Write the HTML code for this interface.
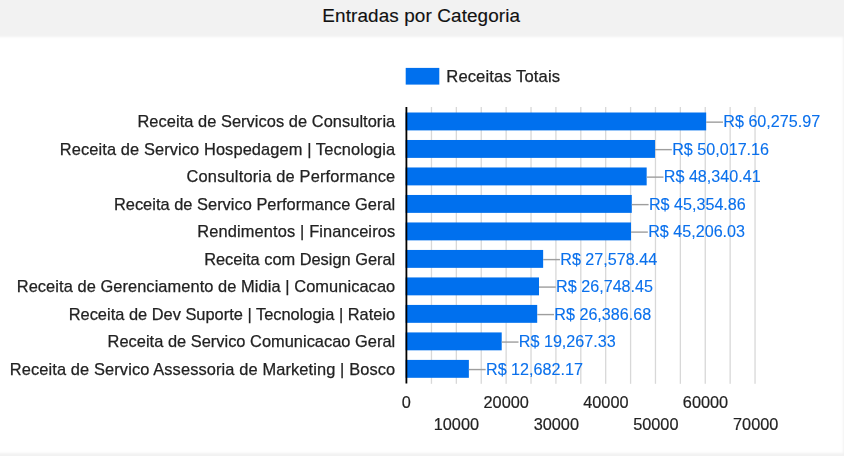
<!DOCTYPE html>
<html><head><meta charset="utf-8"><style>
html,body{margin:0;padding:0;width:844px;height:456px;overflow:hidden;background:#f2f2f2;}
.card{position:absolute;left:-10px;top:37px;width:852.5px;height:416px;background:#fff;filter:blur(1.2px);}
.wrap{position:absolute;left:0;top:0;width:844px;height:456px;will-change:transform;}
svg{position:absolute;left:0;top:0;font-family:"Liberation Sans",sans-serif;}

</style></head><body>
<div class="card"></div>
<svg width="844" height="37" viewBox="0 0 844 37"><text stroke="currentColor" stroke-width="0.15" x="421.2" y="21.75" text-anchor="middle" font-size="18.9" textLength="197.8" lengthAdjust="spacing" fill="#111111" color="#111111">Entradas por Categoria</text></svg>
<div class="wrap">
<svg width="844" height="456" viewBox="0 0 844 456">
<rect x="430.81" y="107" width="1.3" height="276.8" fill="#d8d8d8"/>
<rect x="455.70" y="107" width="1.3" height="276.8" fill="#d8d8d8"/>
<rect x="480.59" y="107" width="1.3" height="276.8" fill="#d8d8d8"/>
<rect x="505.48" y="107" width="1.3" height="276.8" fill="#d8d8d8"/>
<rect x="530.37" y="107" width="1.3" height="276.8" fill="#d8d8d8"/>
<rect x="555.26" y="107" width="1.3" height="276.8" fill="#d8d8d8"/>
<rect x="580.15" y="107" width="1.3" height="276.8" fill="#d8d8d8"/>
<rect x="605.04" y="107" width="1.3" height="276.8" fill="#d8d8d8"/>
<rect x="629.93" y="107" width="1.3" height="276.8" fill="#d8d8d8"/>
<rect x="654.82" y="107" width="1.3" height="276.8" fill="#d8d8d8"/>
<rect x="679.71" y="107" width="1.3" height="276.8" fill="#d8d8d8"/>
<rect x="704.60" y="107" width="1.3" height="276.8" fill="#d8d8d8"/>
<rect x="729.49" y="107" width="1.3" height="276.8" fill="#d8d8d8"/>
<rect x="754.38" y="107" width="1.3" height="276.8" fill="#d8d8d8"/>
<rect x="405.64" y="112.50" width="300.54" height="17.90" fill="#0070ee"/>
<rect x="706.18" y="121.45" width="16.8" height="1.4" fill="#9e9e9e"/>
<text stroke="currentColor" stroke-width="0.25" x="395.2" y="127.20" text-anchor="end" font-size="16.4" textLength="257.72" lengthAdjust="spacing" fill="#222222" color="#222222">Receita de Servicos de Consultoria</text>
<text stroke="currentColor" x="723.28" y="127.20" font-size="16.15" stroke-width="0.12" fill="#0a70ec" color="#0a70ec">R$ 60,275.97</text>
<rect x="405.64" y="139.99" width="249.39" height="17.90" fill="#0070ee"/>
<rect x="655.03" y="148.94" width="16.8" height="1.4" fill="#9e9e9e"/>
<text stroke="currentColor" stroke-width="0.25" x="395.2" y="154.69" text-anchor="end" font-size="16.4" textLength="335.36" lengthAdjust="spacing" fill="#222222" color="#222222">Receita de Servico Hospedagem | Tecnologia</text>
<text stroke="currentColor" x="672.13" y="154.69" font-size="16.15" stroke-width="0.12" fill="#0a70ec" color="#0a70ec">R$ 50,017.16</text>
<rect x="405.64" y="167.48" width="241.03" height="17.90" fill="#0070ee"/>
<rect x="646.67" y="176.43" width="16.8" height="1.4" fill="#9e9e9e"/>
<text stroke="currentColor" stroke-width="0.25" x="395.2" y="182.18" text-anchor="end" font-size="16.4" textLength="208.68" lengthAdjust="spacing" fill="#222222" color="#222222">Consultoria de Performance</text>
<text stroke="currentColor" x="663.77" y="182.18" font-size="16.15" stroke-width="0.12" fill="#0a70ec" color="#0a70ec">R$ 48,340.41</text>
<rect x="405.64" y="194.97" width="226.14" height="17.90" fill="#0070ee"/>
<rect x="631.78" y="203.92" width="16.8" height="1.4" fill="#9e9e9e"/>
<text stroke="currentColor" stroke-width="0.25" x="395.2" y="209.67" text-anchor="end" font-size="16.4" textLength="281.29" lengthAdjust="spacing" fill="#222222" color="#222222">Receita de Servico Performance Geral</text>
<text stroke="currentColor" x="648.88" y="209.67" font-size="16.15" stroke-width="0.12" fill="#0a70ec" color="#0a70ec">R$ 45,354.86</text>
<rect x="405.64" y="222.46" width="225.40" height="17.90" fill="#0070ee"/>
<rect x="631.04" y="231.41" width="16.8" height="1.4" fill="#9e9e9e"/>
<text stroke="currentColor" stroke-width="0.25" x="395.2" y="237.16" text-anchor="end" font-size="16.4" textLength="197.87" lengthAdjust="spacing" fill="#222222" color="#222222">Rendimentos | Financeiros</text>
<text stroke="currentColor" x="648.14" y="237.16" font-size="16.15" stroke-width="0.12" fill="#0a70ec" color="#0a70ec">R$ 45,206.03</text>
<rect x="405.64" y="249.95" width="137.51" height="17.90" fill="#0070ee"/>
<rect x="543.15" y="258.90" width="16.8" height="1.4" fill="#9e9e9e"/>
<text stroke="currentColor" stroke-width="0.25" x="395.2" y="264.65" text-anchor="end" font-size="16.4" textLength="191.01" lengthAdjust="spacing" fill="#222222" color="#222222">Receita com Design Geral</text>
<text stroke="currentColor" x="560.25" y="264.65" font-size="16.15" stroke-width="0.12" fill="#0a70ec" color="#0a70ec">R$ 27,578.44</text>
<rect x="405.64" y="277.44" width="133.37" height="17.90" fill="#0070ee"/>
<rect x="539.01" y="286.39" width="16.8" height="1.4" fill="#9e9e9e"/>
<text stroke="currentColor" stroke-width="0.25" x="395.2" y="292.14" text-anchor="end" font-size="16.4" textLength="378.48" lengthAdjust="spacing" fill="#222222" color="#222222">Receita de Gerenciamento de Midia | Comunicacao</text>
<text stroke="currentColor" x="556.11" y="292.14" font-size="16.15" stroke-width="0.12" fill="#0a70ec" color="#0a70ec">R$ 26,748.45</text>
<rect x="405.64" y="304.93" width="131.56" height="17.90" fill="#0070ee"/>
<rect x="537.20" y="313.88" width="16.8" height="1.4" fill="#9e9e9e"/>
<text stroke="currentColor" stroke-width="0.25" x="395.2" y="319.63" text-anchor="end" font-size="16.4" textLength="326.50" lengthAdjust="spacing" fill="#222222" color="#222222">Receita de Dev Suporte | Tecnologia | Rateio</text>
<text stroke="currentColor" x="554.30" y="319.63" font-size="16.15" stroke-width="0.12" fill="#0a70ec" color="#0a70ec">R$ 26,386.68</text>
<rect x="405.64" y="332.42" width="96.07" height="17.90" fill="#0070ee"/>
<rect x="501.71" y="341.37" width="16.8" height="1.4" fill="#9e9e9e"/>
<text stroke="currentColor" stroke-width="0.25" x="395.2" y="347.12" text-anchor="end" font-size="16.4" textLength="287.58" lengthAdjust="spacing" fill="#222222" color="#222222">Receita de Servico Comunicacao Geral</text>
<text stroke="currentColor" x="518.81" y="347.12" font-size="16.15" stroke-width="0.12" fill="#0a70ec" color="#0a70ec">R$ 19,267.33</text>
<rect x="405.64" y="359.91" width="63.23" height="17.90" fill="#0070ee"/>
<rect x="468.87" y="368.86" width="16.8" height="1.4" fill="#9e9e9e"/>
<text stroke="currentColor" stroke-width="0.25" x="395.2" y="374.61" text-anchor="end" font-size="16.4" textLength="385.41" lengthAdjust="spacing" fill="#222222" color="#222222">Receita de Servico Assessoria de Marketing | Bosco</text>
<text stroke="currentColor" x="485.97" y="374.61" font-size="16.15" stroke-width="0.12" fill="#0a70ec" color="#0a70ec">R$ 12,682.17</text>
<rect x="405.5" y="107" width="1.8" height="276.5" fill="#000"/>
<text stroke="currentColor" stroke-width="0.2" x="406.40" y="408.3" text-anchor="middle" font-size="16.3" fill="#222222" color="#222222">0</text>
<text stroke="currentColor" stroke-width="0.2" x="456.40" y="430.3" text-anchor="middle" font-size="16.3" fill="#222222" color="#222222">10000</text>
<text stroke="currentColor" stroke-width="0.2" x="506.20" y="408.3" text-anchor="middle" font-size="16.3" fill="#222222" color="#222222">20000</text>
<text stroke="currentColor" stroke-width="0.2" x="556.30" y="430.3" text-anchor="middle" font-size="16.3" fill="#222222" color="#222222">30000</text>
<text stroke="currentColor" stroke-width="0.2" x="605.90" y="408.3" text-anchor="middle" font-size="16.3" fill="#222222" color="#222222">40000</text>
<text stroke="currentColor" stroke-width="0.2" x="655.80" y="430.3" text-anchor="middle" font-size="16.3" fill="#222222" color="#222222">50000</text>
<text stroke="currentColor" stroke-width="0.2" x="705.50" y="408.3" text-anchor="middle" font-size="16.3" fill="#222222" color="#222222">60000</text>
<text stroke="currentColor" stroke-width="0.2" x="755.70" y="430.3" text-anchor="middle" font-size="16.3" fill="#222222" color="#222222">70000</text>
<rect x="405.7" y="67.9" width="33.6" height="16.7" fill="#0070ee"/>
<text stroke="currentColor" stroke-width="0.25" x="446.3" y="82.1" font-size="16.6" textLength="113.7" lengthAdjust="spacing" fill="#222222" color="#222222">Receitas Totais</text>
</svg>
</div>
</body></html>
